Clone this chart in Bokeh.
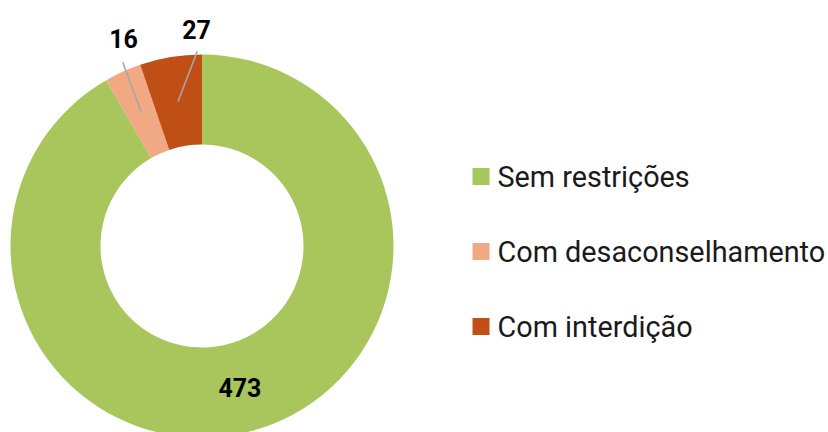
import math
from bokeh.plotting import figure
from bokeh.models import ColumnDataSource, Range1d
from bokeh.core.properties import value
from bokeh.embed import file_html
from bokeh.resources import INLINE

# ---- data ----
categories = ["Sem restrições", "Com desaconselhamento", "Com interdição"]
counts = [473, 16, 27]
colors = ["#A8C65B", "#F1A983", "#C04F15"]

# ---- layout (pixels, y measured from top) ----
W, H = 828, 432
CX, CY = 201.5, 245.5
R_OUT, R_IN = 191.5, 101.5
R_MID = (R_OUT + R_IN) / 2
LEG_SQ_X, LEG_TXT_X = 480.5, 497
LEG_ROWS_Y = [176, 251, 326]
LEG_SQ = 17
# manually moved labels of the small slices (outer leader end, label centre)
label_moves = {1: ((122.3, 61.7), (123, 37.5)), 2: ((196.7, 51.0), (196, 28.5))}

def fy(y):
    return H - y

total = sum(counts)
starts, ends, mids = [], [], []
cum = 0.0
for c in counts:
    a0 = math.pi / 2 - 2 * math.pi * cum / total
    cum += c
    a1 = math.pi / 2 - 2 * math.pi * cum / total
    starts.append(a0)
    ends.append(a1)
    mids.append((a0 + a1) / 2)

p = figure(width=W, height=H, output_backend="svg", toolbar_location=None,
           x_range=Range1d(0, W), y_range=Range1d(0, H),
           min_border=0, x_axis_location=None, y_axis_location=None)
p.grid.visible = False
p.outline_line_color = None
p.background_fill_color = "white"
p.border_fill_color = "white"

src = ColumnDataSource(dict(start=starts, end=ends, color=colors))
p.annular_wedge(x=CX, y=fy(CY), inner_radius=R_IN, outer_radius=R_OUT,
                start_angle="start", end_angle="end", direction="clock",
                fill_color="color", line_color=None, source=src)

# data labels
for i, c in enumerate(counts):
    mx = CX + R_MID * math.cos(mids[i])
    my = fy(CY) + R_MID * math.sin(mids[i])
    if i in label_moves:
        (ox, oy), (lx, ly) = label_moves[i]
        p.line([mx, ox], [my, fy(oy)], line_color="#A6A6A6", line_width=1.6)
        tx, ty = lx, fy(ly)
    else:
        tx, ty = mx, my
    p.text(x=[tx], y=[ty], text=[str(c)], text_align="center",
           text_baseline="middle", text_font=value("Roboto"),
           text_font_style="bold", text_font_size="25px", text_color="#000000")

# legend
p.rect(x=[LEG_SQ_X] * 3, y=[fy(v) for v in LEG_ROWS_Y], width=LEG_SQ, height=LEG_SQ,
       fill_color=colors, line_color=None)
p.text(x=[LEG_TXT_X] * 3, y=[fy(v) for v in LEG_ROWS_Y], text=categories,
       text_align="left", text_baseline="middle", text_font=value("Roboto"),
       text_font_size="28.8px", text_color="#1A1A1A")

open("out.html", "w").write(file_html(p, INLINE))
